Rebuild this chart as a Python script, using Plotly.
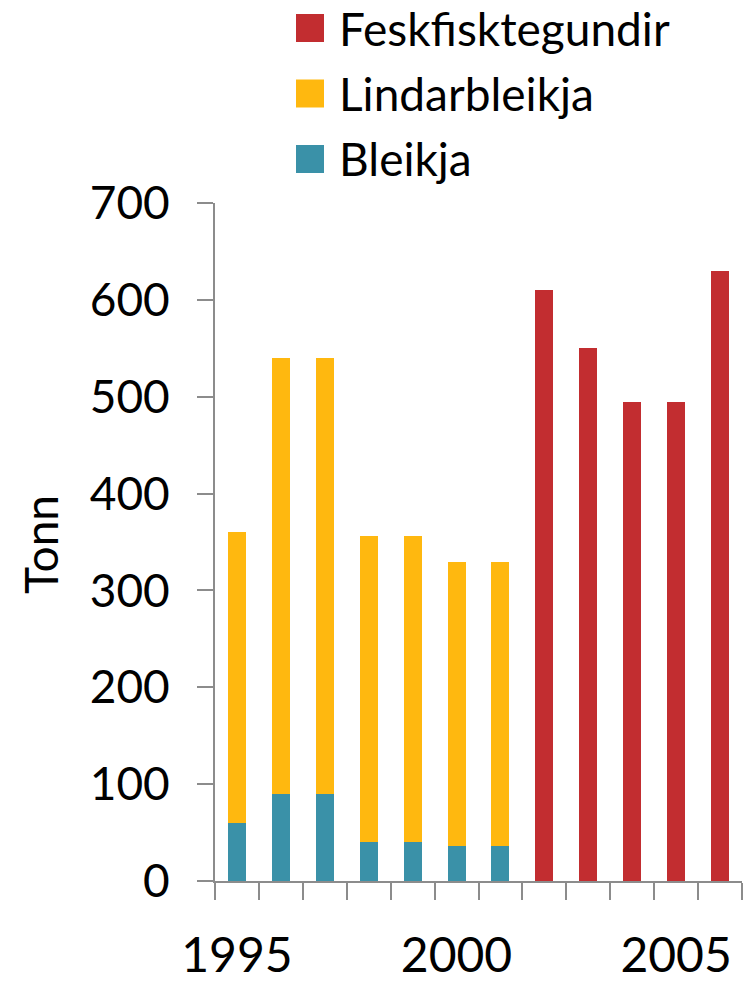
import plotly.graph_objects as go

# Farmed fish production (tonnes) by year
YEARS = list(range(1995, 2007))
BLEIKJA = [60, 90, 90, 40, 40, 36, 36, None, None, None, None, None]
LINDARBLEIKJA = [300, 450, 450, 316, 316, 293, 293, None, None, None, None, None]
FESKFISK = [None, None, None, None, None, None, None, 610, 550, 495, 495, 630]

SERIES = ["Feskfisktegundir", "Lindarbleikja", "Bleikja"]
TEAL, GOLD, RED = "#3A91A8", "#FFB80F", "#C22D30"
AXIS = "#8c8c8c"
FONT = "Lato, 'Open Sans', sans-serif"

W, H = 750, 982
L, R, T, B = 215, 8, 203, 101
PW, PH = W - L - R, H - T - B


def px_x(x):
    return (x - L) / PW


def px_y(y):
    return (H - B - y) / PH


fig = go.Figure()
fig.add_trace(go.Bar(x=YEARS, y=BLEIKJA, name="Bleikja", marker_color=TEAL,
                     marker_line_width=0))
fig.add_trace(go.Bar(x=YEARS, y=LINDARBLEIKJA, name="Lindarbleikja", marker_color=GOLD,
                     marker_line_width=0))
fig.add_trace(go.Bar(x=YEARS, y=FESKFISK, name="Feskfisktegundir", marker_color=RED,
                     marker_line_width=0))

# manual legend (large swatches like the original)
colors = {"Feskfisktegundir": RED, "Lindarbleikja": GOLD, "Bleikja": TEAL}
for i, name in enumerate(SERIES):
    cy = 28 + i * 65.5
    fig.add_shape(type="rect", xref="paper", yref="paper",
                  x0=px_x(296), x1=px_x(324), y0=px_y(cy - 14), y1=px_y(cy + 14),
                  fillcolor=colors[name], line_width=0)
    fig.add_annotation(text=name, xref="paper", yref="paper", x=px_x(337), y=px_y(cy),
                       xanchor="left", yanchor="middle", showarrow=False,
                       font=dict(size=46, color="#000", family=FONT))

fig.add_annotation(text="Tonn", xref="paper", yref="paper", x=px_x(40), y=px_y(545),
                   textangle=-90, showarrow=False, xanchor="center", yanchor="middle",
                   font=dict(size=46, color="#000", family=FONT))

fig.update_layout(
    width=W, height=H,
    barmode="stack", bargap=0.59,
    showlegend=False,
    plot_bgcolor="white", paper_bgcolor="white",
    margin=dict(l=L, r=R, t=T, b=B),
    font=dict(family=FONT, size=46, color="#000"),
)
fig.update_xaxes(
    range=[1994.5, 2006.5], tickvals=[1995, 2000, 2005],
    ticks="outside", ticklen=0, tickcolor=AXIS,
    ticklabelstandoff=31, automargin=False,
    minor=dict(tickvals=[y - 0.5 for y in YEARS] + [2006.5], ticks="outside",
               ticklen=17, tickwidth=2, tickcolor=AXIS),
    showline=True, linecolor=AXIS, linewidth=2,
    showgrid=False, zeroline=False,
    tickfont=dict(size=48),
)
fig.update_yaxes(
    range=[0, 700], dtick=100,
    ticks="outside", ticklen=16, tickwidth=2, tickcolor=AXIS,
    ticklabelstandoff=18, automargin=False,
    showline=True, linecolor=AXIS, linewidth=2,
    showgrid=False, zeroline=False,
    tickfont=dict(size=46),
)

fig.write_html("out.html", config={"displayModeBar": False},
               post_script="document.body.style.margin='0';")
